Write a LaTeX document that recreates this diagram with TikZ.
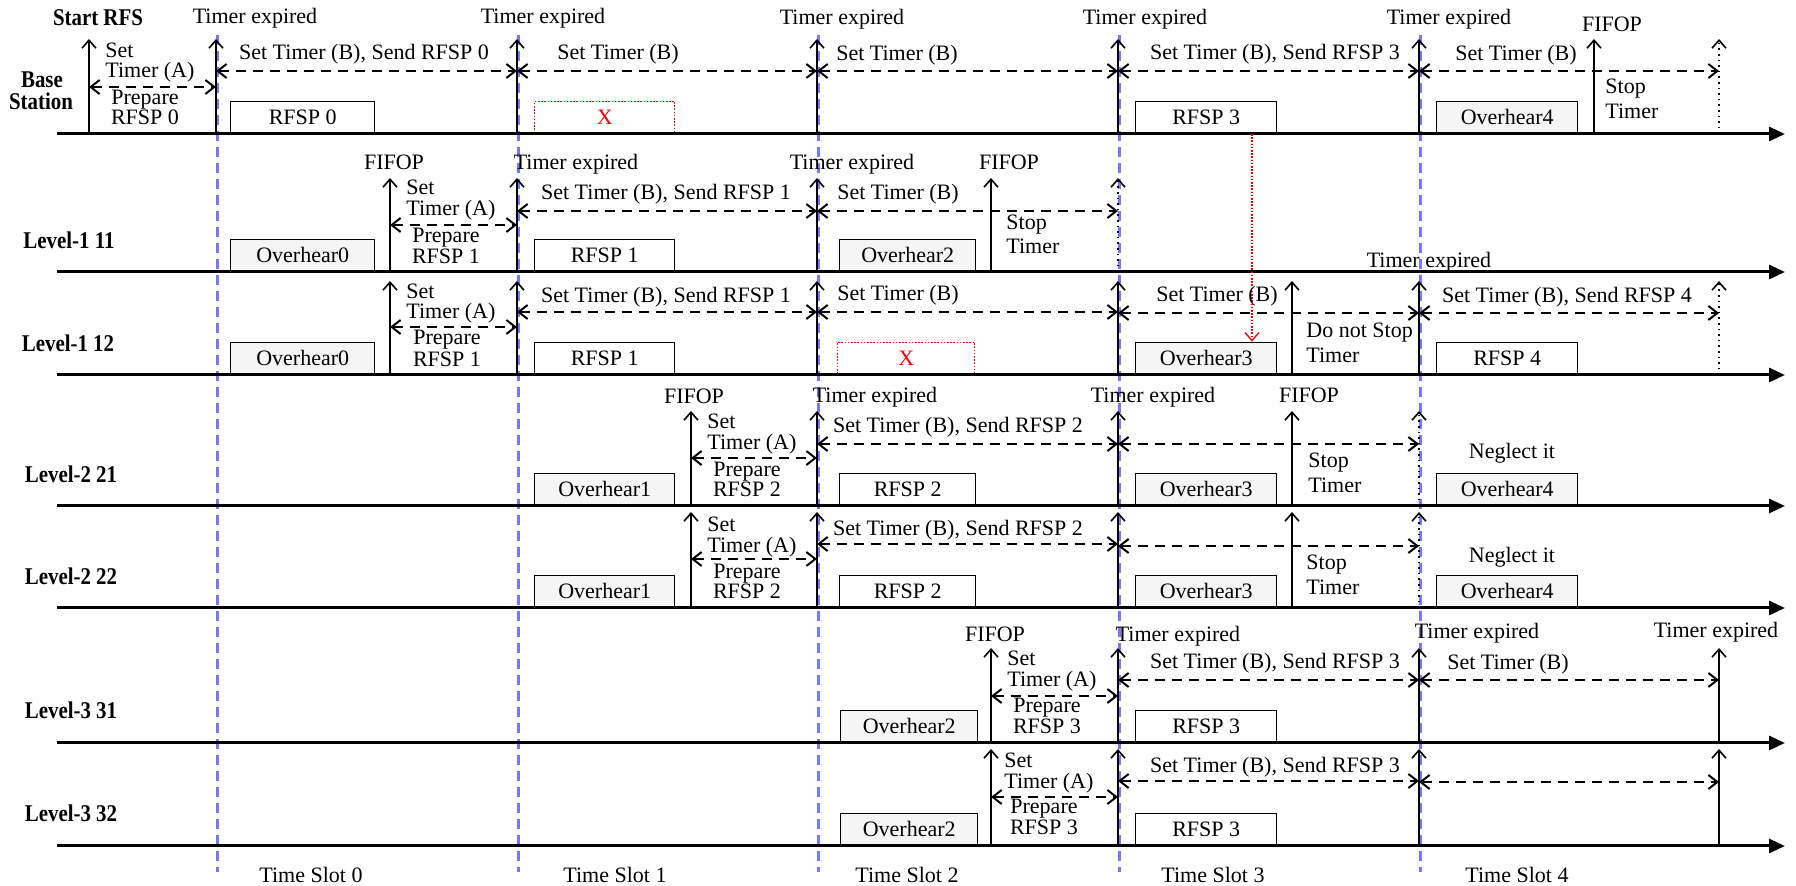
\documentclass[tikz,border=0pt]{standalone}
\usepackage{fontspec}
\setmainfont{Liberation Serif}
\newfontfamily\lblfont{Liberation Serif}[FakeStretch=0.87]
\usetikzlibrary{arrows.meta}
\definecolor{slotblue}{RGB}{120,120,255}
\newcommand\pbox[5]{\node[#1,minimum width=#3,minimum height=16pt,anchor=south west] (#2) at (#4) {#5};}
\begin{document}
\begin{tikzpicture}[x=0.5pt,y=-0.5pt,
  axis/.style={line width=1.5pt,-{Triangle[length=8pt,width=7pt]}},
  evt/.style={line width=0.8pt,-{Straight Barb[length=4pt,width=7pt]}},
  evtdot/.style={evt,dotted},
  dbl/.style={line width=1pt,dash pattern=on 5pt off 3.5pt,{Straight Barb[length=4.5pt,width=7pt]}-{Straight Barb[length=4.5pt,width=7pt]}},
  txt/.style={font=\fontsize{11}{13}\selectfont,inner sep=0pt,text height=8pt,text depth=2.5pt},
  bx/.style={draw,line width=0.7pt,inner sep=0pt,font=\fontsize{11}{13}\selectfont},
  ohbx/.style={bx,fill=black!4},
  xbx/.style={draw=red,dash pattern=on 0.8pt off 0.8pt,line width=0.7pt,inner sep=0pt,text=red,font=\fontsize{11}{13}\selectfont},
  slot/.style={slotblue,line width=1.5pt,dash pattern=on 5pt off 3pt},
  lbl/.style={font=\fontsize{12}{14}\selectfont\lblfont\bfseries,inner sep=0pt,text height=7.5pt,text depth=1.5pt}
]
\useasboundingbox (0,0) rectangle (1796,886);

% time slot boundaries
\foreach \xx in {217,518,818,1119,1420} \draw[slot] (\xx,35) -- (\xx,872);

% ---------------- boxes ----------------
% Base Station
\pbox{bx}{b0}{72pt}{230,134}{RFSP 0}
\pbox{xbx}{bx1}{70pt}{534,134}{X}
\pbox{bx}{b3}{70.5pt}{1135,134}{RFSP 3}
\pbox{ohbx}{b4}{70.5pt}{1436,134}{Overhear4}
% Level-1 11
\pbox{ohbx}{a0}{72pt}{230,272}{Overhear0}
\pbox{bx}{a1}{70pt}{534,272}{RFSP 1}
\pbox{ohbx}{a2}{68pt}{839,272}{Overhear2}
% Level-1 12
\pbox{ohbx}{c0}{72pt}{230,375}{Overhear0}
\pbox{bx}{c1}{70pt}{534,375}{RFSP 1}
\pbox{xbx}{cx2}{68.5pt}{837,375}{X}
\pbox{ohbx}{c3}{70.5pt}{1135,375}{Overhear3}
\pbox{bx}{c4}{70.5pt}{1436,375}{RFSP 4}
% Level-2 21
\pbox{ohbx}{d1}{70pt}{534,506}{Overhear1}
\pbox{bx}{d2}{68pt}{839,506}{RFSP 2}
\pbox{ohbx}{d3}{70.5pt}{1135,506}{Overhear3}
\pbox{ohbx}{d4}{70.5pt}{1436,506}{Overhear4}
% Level-2 22
\pbox{ohbx}{e1}{70pt}{534,608}{Overhear1}
\pbox{bx}{e2}{68pt}{839,608}{RFSP 2}
\pbox{ohbx}{e3}{70.5pt}{1135,608}{Overhear3}
\pbox{ohbx}{e4}{70.5pt}{1436,608}{Overhear4}
% Level-3 31
\pbox{ohbx}{f2}{68.5pt}{840,743}{Overhear2}
\pbox{bx}{f3}{70.5pt}{1135,743}{RFSP 3}
% Level-3 32
\pbox{ohbx}{g2}{68.5pt}{840,846}{Overhear2}
\pbox{bx}{g3}{70.5pt}{1135,846}{RFSP 3}

% ---------------- axes ----------------
\foreach \yy in {134,272,375,506,608,743,846} \draw[axis] (57,\yy) -- (1785,\yy);

% ---------------- row labels ----------------
\node[lbl] (lstart) at (98,20) {Start RFS};
\node[lbl] (lbase) at (42,82) {Base};
\node[lbl] (lstat) at (41,104) {Station};
\node[lbl] (l11) at (69,243) {Level-1 11};
\node[lbl] (l12) at (68,346) {Level-1 12};
\node[lbl] (l21) at (71,477) {Level-2 21};
\node[lbl] (l22) at (71,579) {Level-2 22};
\node[lbl] (l31) at (71,713) {Level-3 31};
\node[lbl] (l32) at (71,816) {Level-3 32};

% ================= Base Station =================
\draw[evt] (89,134) -- (89,39);
\draw[evt] (216,134) -- (216,39);
\draw[evt] (517,134) -- (517,39);
\draw[evt] (817,134) -- (817,39);
\draw[evt] (1118,134) -- (1118,39);
\draw[evt] (1419,134) -- (1419,39);
\draw[evt] (1594,134) -- (1594,39);
\draw[evtdot] (1719,134) -- (1719,39);
\draw[dbl] (89,87) -- (216,87);
\draw[dbl] (216,71) -- (517,71);
\draw[dbl] (517,71) -- (817,71);
\draw[dbl] (817,71) -- (1118,71);
\draw[dbl] (1118,71) -- (1419,71);
\draw[dbl] (1419,71) -- (1719,71);
\node[txt] (bt1) at (255,18) {Timer expired};
\node[txt] (bt2) at (543,18) {Timer expired};
\node[txt] (bt3) at (842,19) {Timer expired};
\node[txt] (bt4) at (1145,19) {Timer expired};
\node[txt] (bt5) at (1449,19) {Timer expired};
\node[txt,anchor=west] (bs1) at (105,52) {Set};
\node[txt,anchor=west] (bs2) at (105,72) {Timer (A)};
\node[txt] (bp1) at (145,99) {Prepare};
\node[txt] (bp2) at (145,119) {RFSP 0};
\node[txt] (bb1) at (364,54) {Set Timer (B), Send RFSP 0};
\node[txt] (bb2) at (618,54) {Set Timer (B)};
\node[txt] (bb3) at (897,55) {Set Timer (B)};
\node[txt] (bb4) at (1275,54) {Set Timer (B), Send RFSP 3};
\node[txt] (bb5) at (1516,55) {Set Timer (B)};
\node[txt] (bfifo) at (1612,26) {FIFOP};
\node[txt,anchor=west] (bst1) at (1605,88) {Stop};
\node[txt,anchor=west] (bst2) at (1605,113) {Timer};

% ================= Level-1 11 =================
\draw[evt] (390,272) -- (390,178);
\draw[evt] (517,272) -- (517,178);
\draw[evt] (817,272) -- (817,178);
\draw[evt] (991,272) -- (991,178);
\draw[evtdot] (1118,272) -- (1118,178);
\draw[dbl] (390,225) -- (517,225);
\draw[dbl] (517,211) -- (817,211);
\draw[dbl] (817,211) -- (1118,211);
\node[txt] (af1) at (394,164) {FIFOP};
\node[txt,anchor=west] (as1) at (406,189) {Set};
\node[txt,anchor=west] (as2) at (406,210) {Timer (A)};
\node[txt] (ap1) at (446,237) {Prepare};
\node[txt] (ap2) at (446,258) {RFSP 1};
\node[txt] (at1) at (576,164) {Timer expired};
\node[txt] (ab1) at (666,194) {Set Timer (B), Send RFSP 1};
\node[txt] (at2) at (852,164) {Timer expired};
\node[txt] (ab2) at (898,194) {Set Timer (B)};
\node[txt] (af2) at (1009,164) {FIFOP};
\node[txt,anchor=west] (ast1) at (1006,224) {Stop};
\node[txt,anchor=west] (ast2) at (1006,248) {Timer};

% ================= Level-1 12 =================
\draw[evt] (390,375) -- (390,281);
\draw[evt] (517,375) -- (517,281);
\draw[evt] (817,375) -- (817,281);
\draw[evt] (1118,375) -- (1118,281);
\draw[evt] (1292,375) -- (1292,281);
\draw[evt] (1419,375) -- (1419,281);
\draw[evtdot] (1719,375) -- (1719,281);
\draw[dbl] (390,327) -- (517,327);
\draw[dbl] (517,312) -- (817,312);
\draw[dbl] (817,312) -- (1118,312);
\draw[dbl] (1118,313) -- (1419,313);
\draw[dbl] (1419,313) -- (1719,313);
\coordinate (rtop) at (1252,134);
\draw[red,dash pattern=on 0.8pt off 0.8pt,line width=0.7pt,-{Straight Barb[length=4pt,width=7pt]}] (rtop) -- (c3.north -| rtop);
\node[txt,anchor=west] (cs1) at (406,293) {Set};
\node[txt,anchor=west] (cs2) at (406,313) {Timer (A)};
\node[txt] (cp1) at (447,339) {Prepare};
\node[txt] (cp2) at (447,361) {RFSP 1};
\node[txt] (cb1) at (666,297) {Set Timer (B), Send RFSP 1};
\node[txt] (cb2) at (898,295) {Set Timer (B)};
\node[txt] (cb3) at (1217,296) {Set Timer (B)};
\node[txt,anchor=west] (cd1) at (1306,332) {Do not Stop};
\node[txt,anchor=west] (cd2) at (1306,357) {Timer};
\node[txt] (ct1) at (1429,262) {Timer expired};
\node[txt] (cb4) at (1567,297) {Set Timer (B), Send RFSP 4};

% ================= Level-2 21 =================
\draw[evt] (691,506) -- (691,411);
\draw[evt] (817,506) -- (817,411);
\draw[evt] (1118,506) -- (1118,411);
\draw[evt] (1292,506) -- (1292,411);
\draw[evtdot] (1419,506) -- (1419,411);
\draw[dbl] (691,458) -- (817,458);
\draw[dbl] (817,444) -- (1118,444);
\draw[dbl] (1118,444) -- (1419,444);
\node[txt] (df1) at (694,398) {FIFOP};
\node[txt,anchor=west] (ds1) at (707,423) {Set};
\node[txt,anchor=west] (ds2) at (707,444) {Timer (A)};
\node[txt] (dp1) at (747,471) {Prepare};
\node[txt] (dp2) at (747,491) {RFSP 2};
\node[txt] (dt1) at (875,397) {Timer expired};
\node[txt] (db1) at (958,427) {Set Timer (B), Send RFSP 2};
\node[txt] (dt2) at (1153,397) {Timer expired};
\node[txt] (df2) at (1309,397) {FIFOP};
\node[txt,anchor=west] (dst1) at (1308,462) {Stop};
\node[txt,anchor=west] (dst2) at (1308,487) {Timer};
\node[txt] (dn) at (1512,453) {Neglect it};

% ================= Level-2 22 =================
\draw[evt] (691,608) -- (691,512);
\draw[evt] (817,608) -- (817,512);
\draw[evt] (1118,608) -- (1118,512);
\draw[evt] (1292,608) -- (1292,512);
\draw[evtdot] (1419,608) -- (1419,512);
\draw[dbl] (691,559) -- (817,559);
\draw[dbl] (817,544) -- (1118,544);
\draw[dbl] (1118,546) -- (1419,546);
\node[txt,anchor=west] (es1) at (707,526) {Set};
\node[txt,anchor=west] (es2) at (707,547) {Timer (A)};
\node[txt] (ep1) at (747,573) {Prepare};
\node[txt] (ep2) at (747,593) {RFSP 2};
\node[txt] (eb1) at (958,530) {Set Timer (B), Send RFSP 2};
\node[txt,anchor=west] (est1) at (1306,564) {Stop};
\node[txt,anchor=west] (est2) at (1306,589) {Timer};
\node[txt] (en) at (1512,557) {Neglect it};

% ================= Level-3 31 =================
\draw[evt] (991,743) -- (991,648);
\draw[evt] (1118,743) -- (1118,648);
\draw[evt] (1419,743) -- (1419,648);
\draw[evt] (1719,743) -- (1719,648);
\draw[dbl] (991,696) -- (1118,696);
\draw[dbl] (1118,680) -- (1419,680);
\draw[dbl] (1419,680) -- (1719,680);
\node[txt] (ff1) at (995,636) {FIFOP};
\node[txt,anchor=west] (fs1) at (1007,660) {Set};
\node[txt,anchor=west] (fs2) at (1007,681) {Timer (A)};
\node[txt] (fp1) at (1047,707) {Prepare};
\node[txt] (fp2) at (1047,728) {RFSP 3};
\node[txt] (ft1) at (1178,636) {Timer expired};
\node[txt] (fb1) at (1275,663) {Set Timer (B), Send RFSP 3};
\node[txt] (ft2) at (1477,633) {Timer expired};
\node[txt] (fb2) at (1508,664) {Set Timer (B)};
\node[txt] (ft3) at (1716,632) {Timer expired};

% ================= Level-3 32 =================
\draw[evt] (991,846) -- (991,749);
\draw[evt] (1118,846) -- (1118,749);
\draw[evt] (1419,846) -- (1419,749);
\draw[evt] (1719,846) -- (1719,749);
\draw[dbl] (991,797) -- (1118,797);
\draw[dbl] (1118,781) -- (1419,781);
\draw[dbl] (1419,782) -- (1719,782);
\node[txt,anchor=west] (gs1) at (1004,762) {Set};
\node[txt,anchor=west] (gs2) at (1004,783) {Timer (A)};
\node[txt] (gp1) at (1044,808) {Prepare};
\node[txt] (gp2) at (1044,829) {RFSP 3};
\node[txt] (gb1) at (1275,767) {Set Timer (B), Send RFSP 3};

% ================= time slots =================
\node[txt] (ts0) at (311,877) {Time Slot 0};
\node[txt] (ts1) at (615,877) {Time Slot 1};
\node[txt] (ts2) at (907,877) {Time Slot 2};
\node[txt] (ts3) at (1213,877) {Time Slot 3};
\node[txt] (ts4) at (1517,877) {Time Slot 4};
\end{tikzpicture}
\end{document}
